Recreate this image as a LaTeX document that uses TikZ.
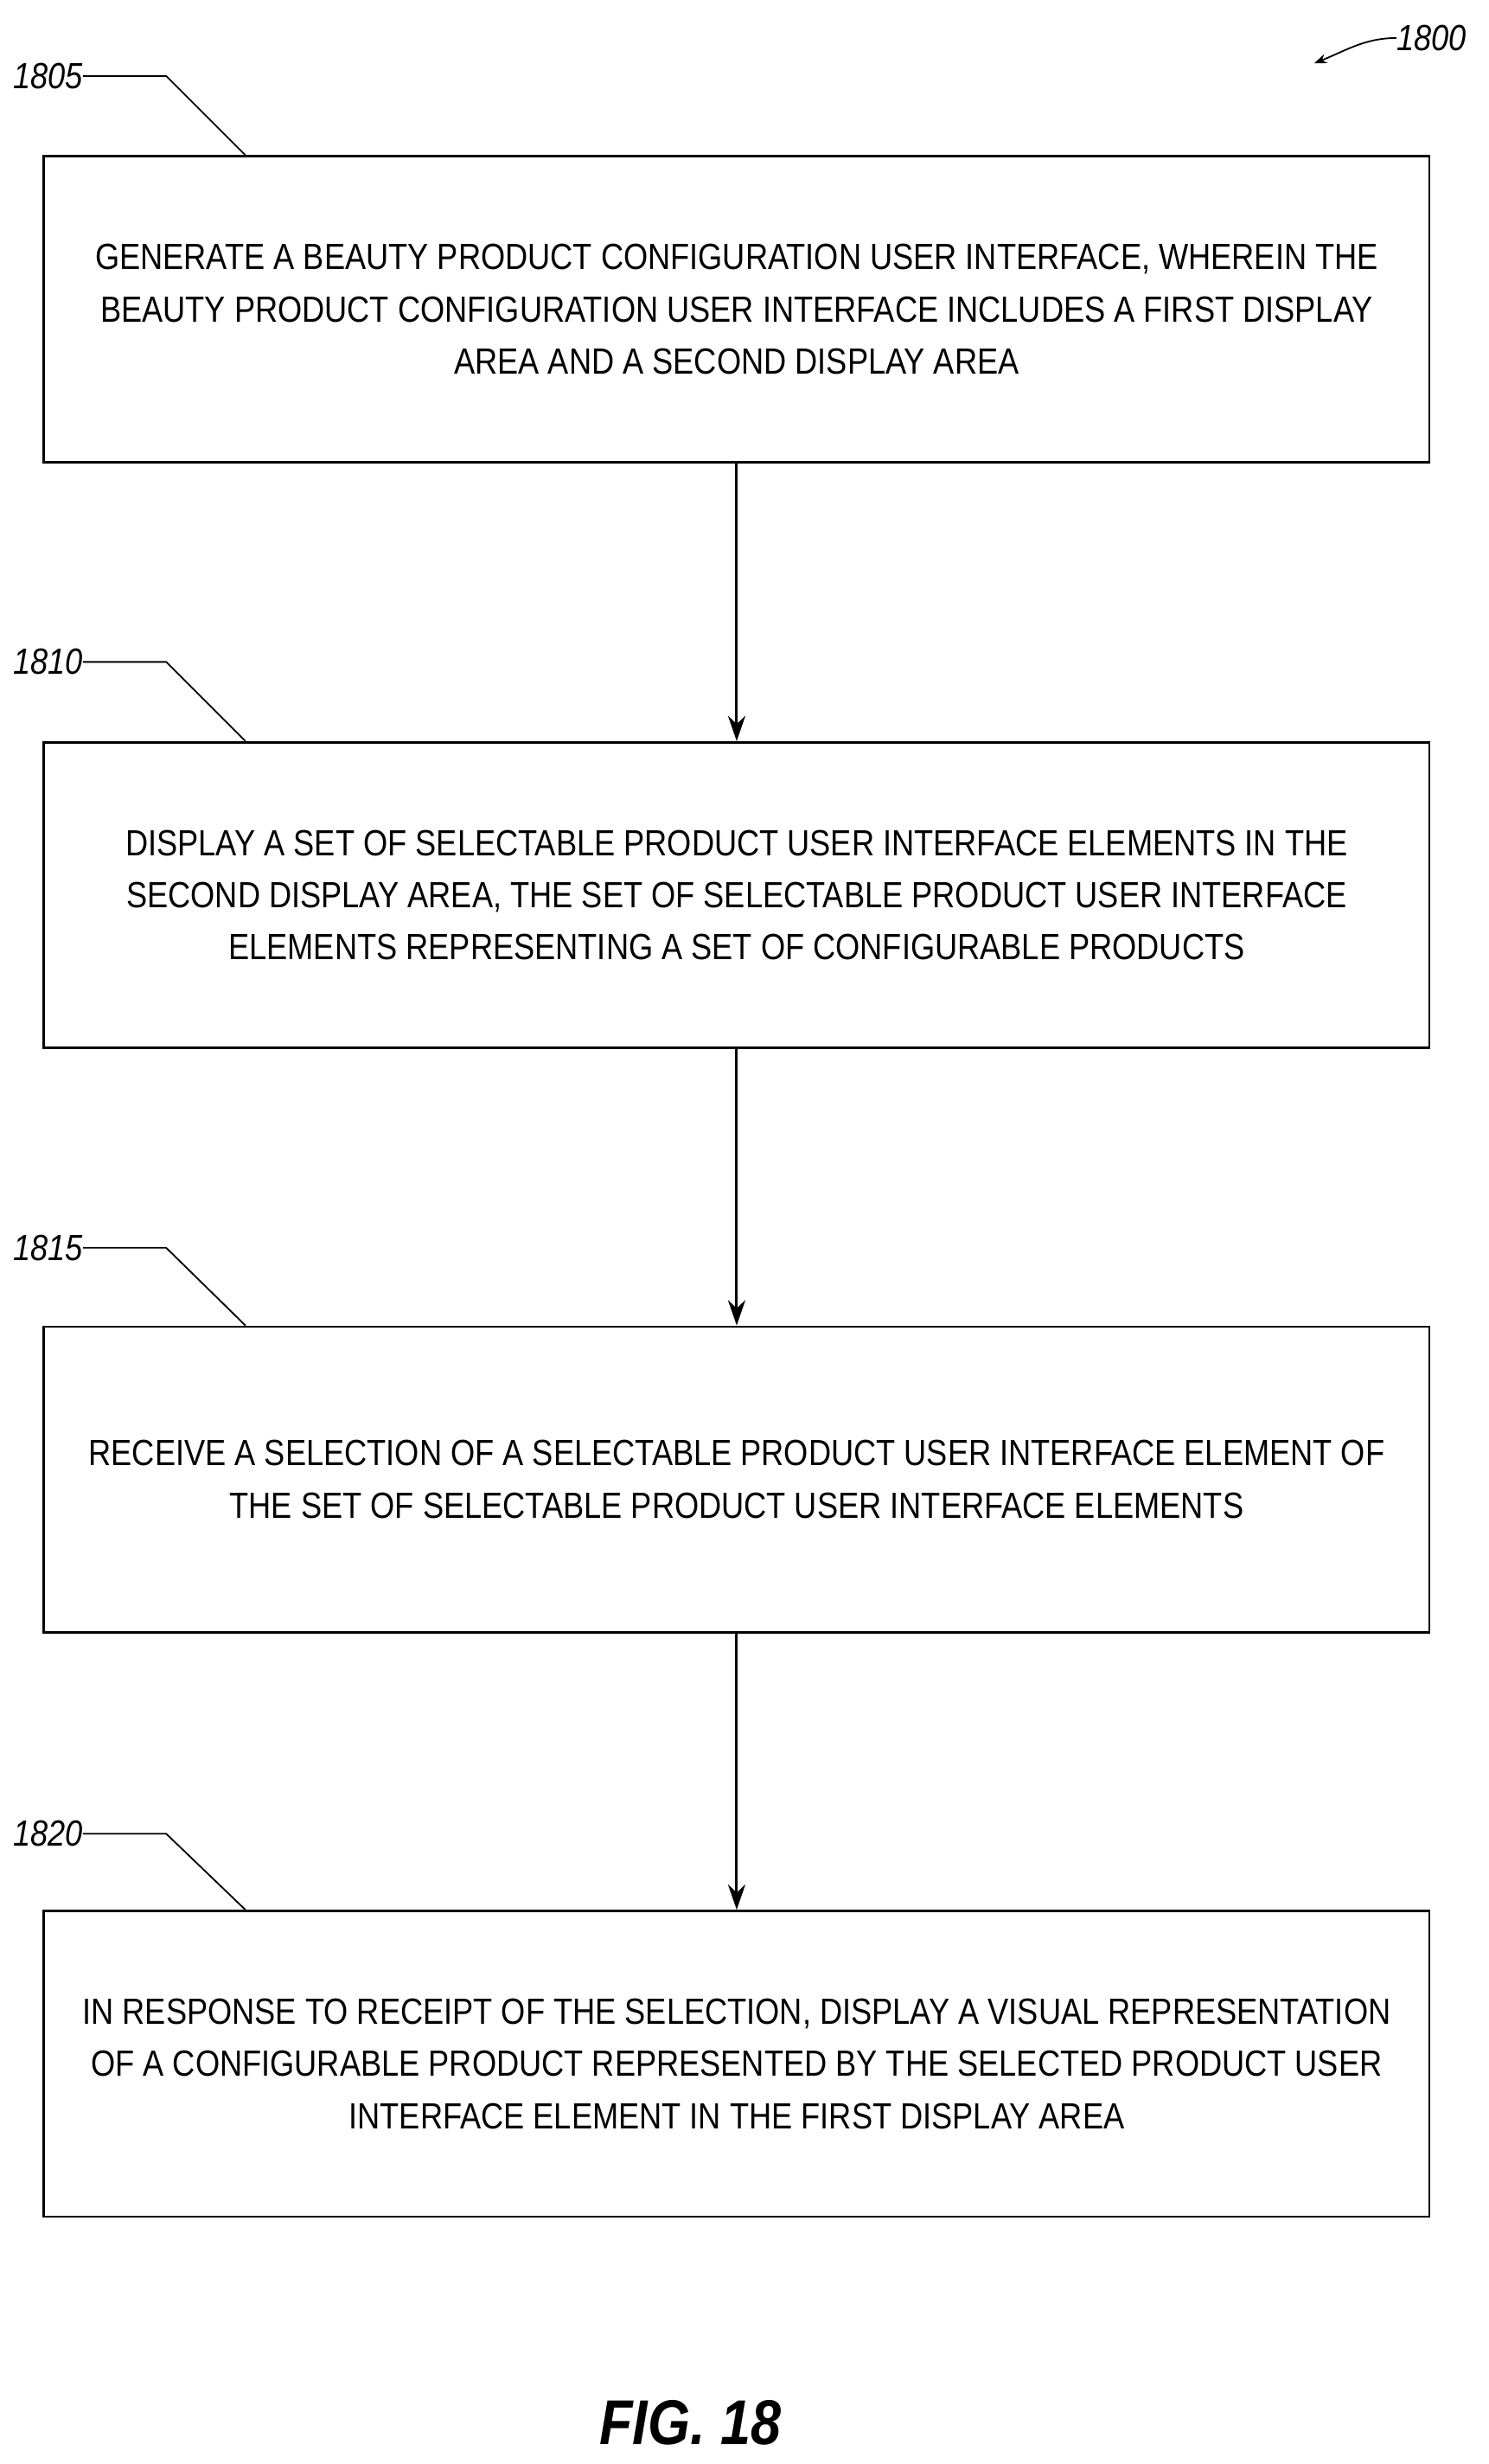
\documentclass[tikz,border=0pt]{standalone}
\usepackage{fontspec}
\setmainfont{Liberation Sans}[FakeStretch=0.86]
\usetikzlibrary{arrows.meta}
\begin{document}
\begin{tikzpicture}[x=1pt,y=-1pt,
  stepbox/.style={draw,line width=1.6pt,minimum width=875pt,minimum height=193pt,anchor=north west,inner sep=0pt,align=center,font=\fontsize{23}{33}\selectfont},
  lab/.style={font=\fontsize{23}{24}\selectfont\itshape,anchor=west,inner sep=0pt},
  lead/.style={line width=1pt},
  arr/.style={line width=1.6pt,-{Stealth[length=16pt,width=11pt]}}]
\useasboundingbox (0,0) rectangle (940,1556);
\node[stepbox] (b1) at (27,98) {GENERATE A BEAUTY PRODUCT CONFIGURATION USER INTERFACE, WHEREIN THE\\BEAUTY PRODUCT CONFIGURATION USER INTERFACE INCLUDES A FIRST DISPLAY\\AREA AND A SECOND DISPLAY AREA};
\node[stepbox] (b2) at (27,468) {DISPLAY A SET OF SELECTABLE PRODUCT USER INTERFACE ELEMENTS IN THE\\SECOND DISPLAY AREA, THE SET OF SELECTABLE PRODUCT USER INTERFACE\\ELEMENTS REPRESENTING A SET OF CONFIGURABLE PRODUCTS};
\node[stepbox] (b3) at (27,837) {RECEIVE A SELECTION OF A SELECTABLE PRODUCT USER INTERFACE ELEMENT OF\\THE SET OF SELECTABLE PRODUCT USER INTERFACE ELEMENTS};
\node[stepbox] (b4) at (27,1206) {IN RESPONSE TO RECEIPT OF THE SELECTION, DISPLAY A VISUAL REPRESENTATION\\OF A CONFIGURABLE PRODUCT REPRESENTED BY THE SELECTED PRODUCT USER\\INTERFACE ELEMENT IN THE FIRST DISPLAY AREA};
\draw[arr] (b1.south) -- (b2.north);
\draw[arr] (b2.south) -- (b3.north);
\draw[arr] (b3.south) -- (b4.north);
\foreach \n/\t/\y in {b1/1805/48,b2/1810/418,b3/1815/788,b4/1820/1158}{
  \node[lab] (l\n) at (8,\y) {\t};
  \coordinate (c\n) at (105,\y);
  \draw[lead] (l\n.east) -- (c\n) -- ([xshift=128pt]\n.north west);
}
\node[lab] (l1800) at (882,24) {1800};
\coordinate (s1800) at (830,40);
\draw[lead,-{Stealth[length=8pt,width=6pt]}] (l1800.west) .. controls (862,24) and (850,32) .. (s1800);
\node[font=\fontsize{40}{44}\selectfont\bfseries\itshape] (fig) at (436,1530) {FIG. 18};
\end{tikzpicture}
\end{document}
